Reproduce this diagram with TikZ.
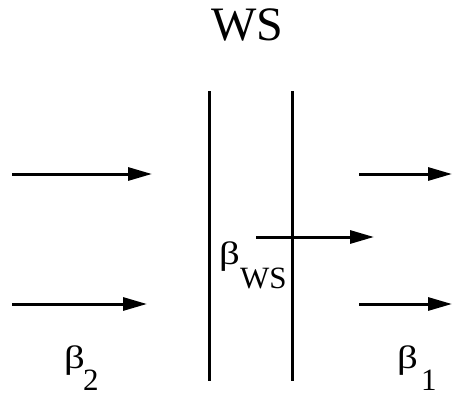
\documentclass[tikz,border=0pt]{standalone}
\usepackage{fontspec}
\setmainfont{Liberation Serif}
\usetikzlibrary{arrows.meta}
\tikzset{
  flow/.style={line width=3pt,-{Triangle[length=24pt,width=13pt]}},
  wall/.style={line width=3pt},
  beta/.style={inner sep=0pt,anchor=base west,font=\fontsize{34}{40}\selectfont},
  sub/.style={inner sep=0pt,anchor=base west,font=\fontsize{31}{36}\selectfont}
}
\newcommand{\mybeta}{\scalebox{1.2}[0.95]{β}}
\begin{document}
\begin{tikzpicture}[x=1pt,y=1pt]
\useasboundingbox (0,0) rectangle (452,392);
% walls
\coordinate (w1t) at (209,301);
\coordinate (w1b) at (209,11);
\coordinate (w2t) at (292,301);
\coordinate (w2b) at (292,11);
\draw[wall] (w1t) -- (w1b);
\draw[wall] (w2t) -- (w2b);
% arrows
\coordinate (tl1) at (12,218);
\coordinate (tl2) at (152,218);
\coordinate (bl1) at (12,88);
\coordinate (bl2) at (147,88);
\coordinate (tr1) at (359,218);
\coordinate (tr2) at (452,218);
\coordinate (br1) at (359,88);
\coordinate (br2) at (452,88);
\coordinate (m1) at (256,155);
\coordinate (m2) at (374,155);
\draw[flow] (tl1) -- (tl2);
\draw[flow] (bl1) -- (bl2);
\draw[flow] (tr1) -- (tr2);
\draw[flow] (br1) -- (br2);
\draw[flow] (m1) -- (m2);
% labels
\node[inner sep=0pt,font=\fontsize{48}{56}\selectfont,anchor=base] (ws) at (247,352) {WS};
\node[beta] (bws) at (219,128) {\mybeta};
\node[sub] (bwss) at (240,104) {WS};
\node[beta] (b2) at (64,24) {\mybeta};
\node[sub] (b2s) at (83,2) {2};
\node[beta] (b1) at (397,24) {\mybeta};
\node[sub] (b1s) at (421,2) {1};
\end{tikzpicture}
\end{document}
